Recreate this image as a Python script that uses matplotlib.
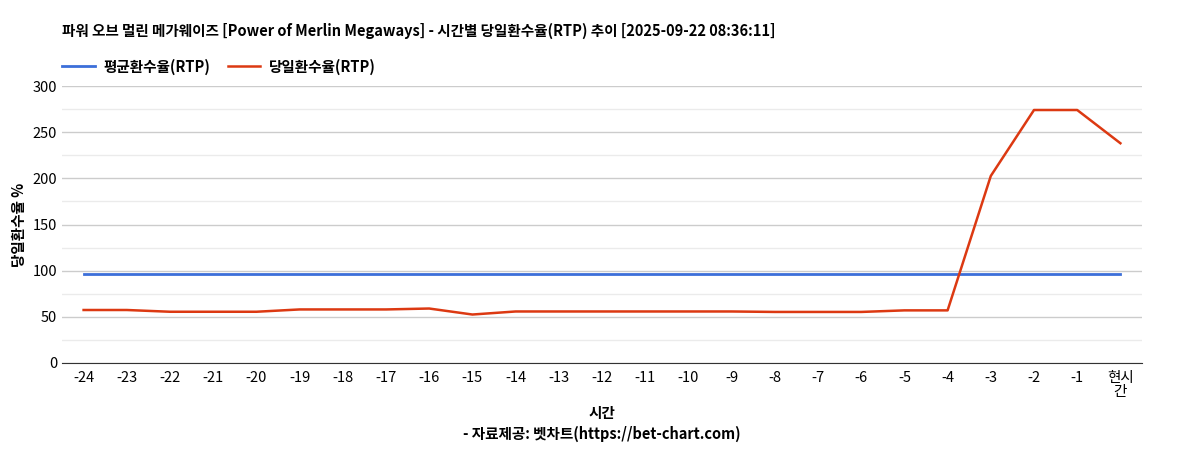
import matplotlib
matplotlib.use("Agg")
import matplotlib.pyplot as plt

plt.rcParams['font.family'] = ['Noto Sans CJK KR', 'DejaVu Sans']

labels = [str(i) for i in range(-24, 0)] + ["현시\n간"]
avg_rtp = [96.5] * 25
day_rtp = [57.4, 57.4, 55.5, 55.5, 55.5, 58, 58, 58, 59, 52.5, 55.8, 55.8, 55.8, 55.8, 55.8, 55.8, 55.3, 55.3, 55.3, 57, 57, 202.6, 274, 274, 238]

fig = plt.figure(figsize=(12.02, 4.5), dpi=100)
ax = fig.add_axes([62/1202, 1-363/450, (1142-62)/1202, (363-86)/450])
x = list(range(len(labels)))
ax.plot(x, avg_rtp, color='#3c6fd9', lw=2, label='평균환수율(RTP)')
ax.plot(x, day_rtp, color='#dc3912', lw=1.8, label='당일환수율(RTP)')
ax.set_xlim(-0.5, 24.5)
ax.set_ylim(0, 300)
ax.set_yticks(range(0, 301, 50))
ax.set_yticks(range(25, 300, 50), minor=True)
ax.grid(axis='y', which='major', color='#cccccc', lw=1)
ax.grid(axis='y', which='minor', color='#ebebeb', lw=1)
ax.set_axisbelow(True)
ax.set_xticks(x)
ax.set_xticklabels(labels, fontsize=10.5, linespacing=1.0)
ax.tick_params(axis='y', which='both', labelsize=10.5, length=0)
ax.tick_params(axis='x', length=0, pad=6)
for s in ['top', 'right', 'left']:
    ax.spines[s].set_visible(False)
ax.spines['bottom'].set_color('#333333')
ax.set_ylabel('당일환수율 %', fontsize=10.5, fontweight='bold')
ax.set_xlabel('시간\n- 자료제공: 벳차트(https://bet-chart.com)', fontsize=10.5, fontweight='bold', linespacing=1.4)
fig.text(62/1202, 1-31/450, '파워 오브 멀린 메가웨이즈 [Power of Merlin Megaways] - 시간별 당일환수율(RTP) 추이 [2025-09-22 08:36:11]',
         fontsize=10.5, fontweight='bold', va='center')
ax.legend(loc='lower left', bbox_to_anchor=(-0.005, 1.02), ncol=2, frameon=False,
          prop={'weight': 'bold', 'size': 10.5}, handlelength=2.2, handletextpad=0.6, columnspacing=1.2, borderaxespad=0)
fig.savefig('out.png', dpi=100)
